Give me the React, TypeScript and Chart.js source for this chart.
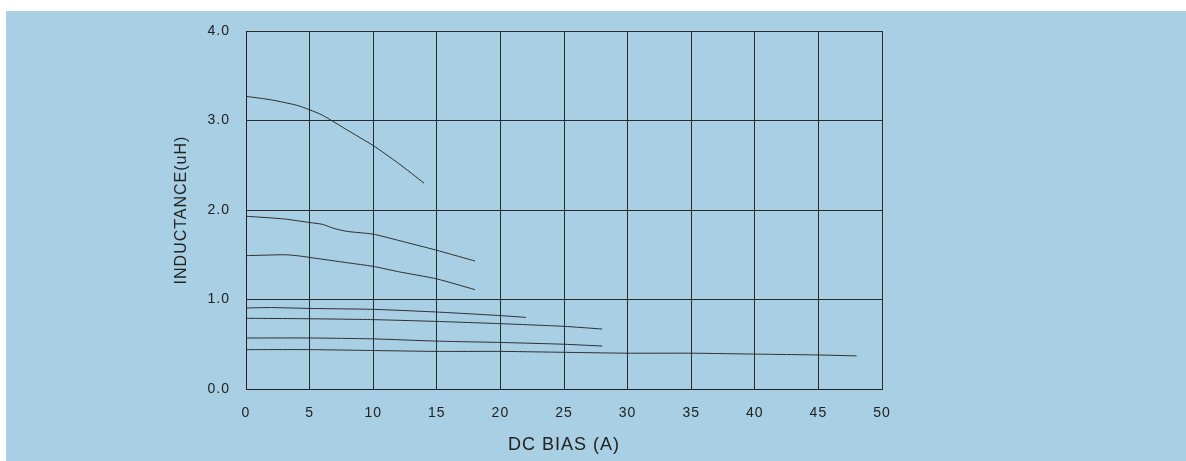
import React, { useEffect, useRef } from "react";
import { Chart, registerables } from "chart.js";

Chart.register(...registerables);

const xTicks = [0, 5, 10, 15, 20, 25, 30, 35, 40, 45, 50];
const yTicks = [0, 1, 2, 3, 4];

const curve1X = [0, 2, 4, 5, 6, 8, 10, 12, 14];
const curve1Y = [3.27, 3.23, 3.17, 3.12, 3.06, 2.89, 2.72, 2.52, 2.3];

const curve2X = [0, 3, 5, 6, 7, 8, 10, 12, 15, 16, 18];
const curve2Y = [1.93, 1.9, 1.86, 1.84, 1.79, 1.76, 1.73, 1.66, 1.55, 1.51, 1.43];

const curve3X = [0, 3, 4, 5, 8, 10, 12, 15, 18];
const curve3Y = [1.49, 1.5, 1.49, 1.47, 1.41, 1.37, 1.31, 1.23, 1.11];

const curve4X = [0, 2, 5, 10, 15, 20, 22];
const curve4Y = [0.905, 0.91, 0.9, 0.89, 0.86, 0.82, 0.8];

const curve5X = [0, 5, 10, 15, 20, 25, 28];
const curve5Y = [0.79, 0.785, 0.775, 0.755, 0.73, 0.7, 0.67];

const curve6X = [0, 5, 10, 15, 20, 25, 28];
const curve6Y = [0.57, 0.57, 0.56, 0.535, 0.52, 0.5, 0.48];

const curve7X = [0, 5, 10, 15, 20, 25, 30, 35, 40, 45, 48];
const curve7Y = [0.44, 0.44, 0.43, 0.42, 0.42, 0.41, 0.4, 0.4, 0.39, 0.38, 0.37];

const curves = [
  [curve1X, curve1Y],
  [curve2X, curve2Y],
  [curve3X, curve3Y],
  [curve4X, curve4Y],
  [curve5X, curve5Y],
  [curve6X, curve6Y],
  [curve7X, curve7Y],
];

const xTitle = "DC BIAS (A)";
const yTitle = "INDUCTANCE(uH)";

const FONT = "Arial, 'Liberation Sans', sans-serif";

export default function App() {
  const ref = useRef<HTMLCanvasElement | null>(null);

  useEffect(() => {
    if (!ref.current) return;
    const spacingPlugin = {
      id: "spacing",
      beforeDraw(chart: any) {
        try {
          (chart.ctx as any).letterSpacing = "1px";
        } catch (e) {}
      },
    };
    const chart = new Chart(ref.current, {
      type: "line",
      data: {
        datasets: curves.map(([xs, ys]) => ({
          data: xs.map((x, i) => ({ x, y: ys[i] })),
          borderColor: "#2e2e2e",
          borderWidth: 1,
          pointRadius: 0,
          tension: 0.2,
          fill: false,
        })),
      },
      options: {
        animation: false,
        responsive: false,
        maintainAspectRatio: false,
        layout: { padding: { left: 0, top: 20, right: 304, bottom: 0 } },
        plugins: {
          legend: { display: false },
          tooltip: { enabled: false },
        },
        scales: {
          x: {
            type: "linear",
            min: 0,
            max: 50,
            afterBuildTicks: (scale: any) => {
              scale.ticks = xTicks.map((v) => ({ value: v }));
            },
            afterFit: (scale: any) => {
              scale.height = 72;
              scale.paddingLeft = 0;
              scale.paddingRight = 0;
            },
            ticks: {
              padding: 16,
              color: "#222",
              font: { family: FONT, size: 14 },
              maxRotation: 0,
              callback: (v: any) => String(v),
            },
            grid: { color: "#2a2a2a", lineWidth: 1, drawTicks: false },
            border: { display: true, color: "#222", width: 1 },
            title: {
              display: true,
              text: xTitle,
              color: "#222",
              font: { family: FONT, size: 18 },
              padding: { top: 0, bottom: 5 },
            },
          },
          y: {
            type: "linear",
            min: 0,
            max: 4,
            afterBuildTicks: (scale: any) => {
              scale.ticks = yTicks.map((v) => ({ value: v }));
            },
            afterFit: (scale: any) => {
              scale.width = 240;
              scale.paddingTop = 0;
              scale.paddingBottom = 0;
            },
            ticks: {
              padding: 16,
              color: "#222",
              font: { family: FONT, size: 14 },
              callback: (v: any) => Number(v).toFixed(1),
            },
            grid: { color: "#2a2a2a", lineWidth: 1, drawTicks: false },
            border: { display: true, color: "#222", width: 1 },
            title: {
              display: true,
              text: yTitle,
              color: "#222",
              font: { family: FONT, size: 16 },
              padding: { top: 166, bottom: 0 },
            },
          },
        },
      },
      plugins: [spacingPlugin],
    } as any);
    return () => chart.destroy();
  }, []);

  return (
    <div
      style={{
        position: "absolute",
        left: 6,
        top: 11,
        width: 1180,
        height: 450,
        background: "#a8cfe3",
      }}
    >
      <canvas ref={ref} width={1180} height={450} style={{ display: "block", width: 1180, height: 450 }} />
    </div>
  );
}
